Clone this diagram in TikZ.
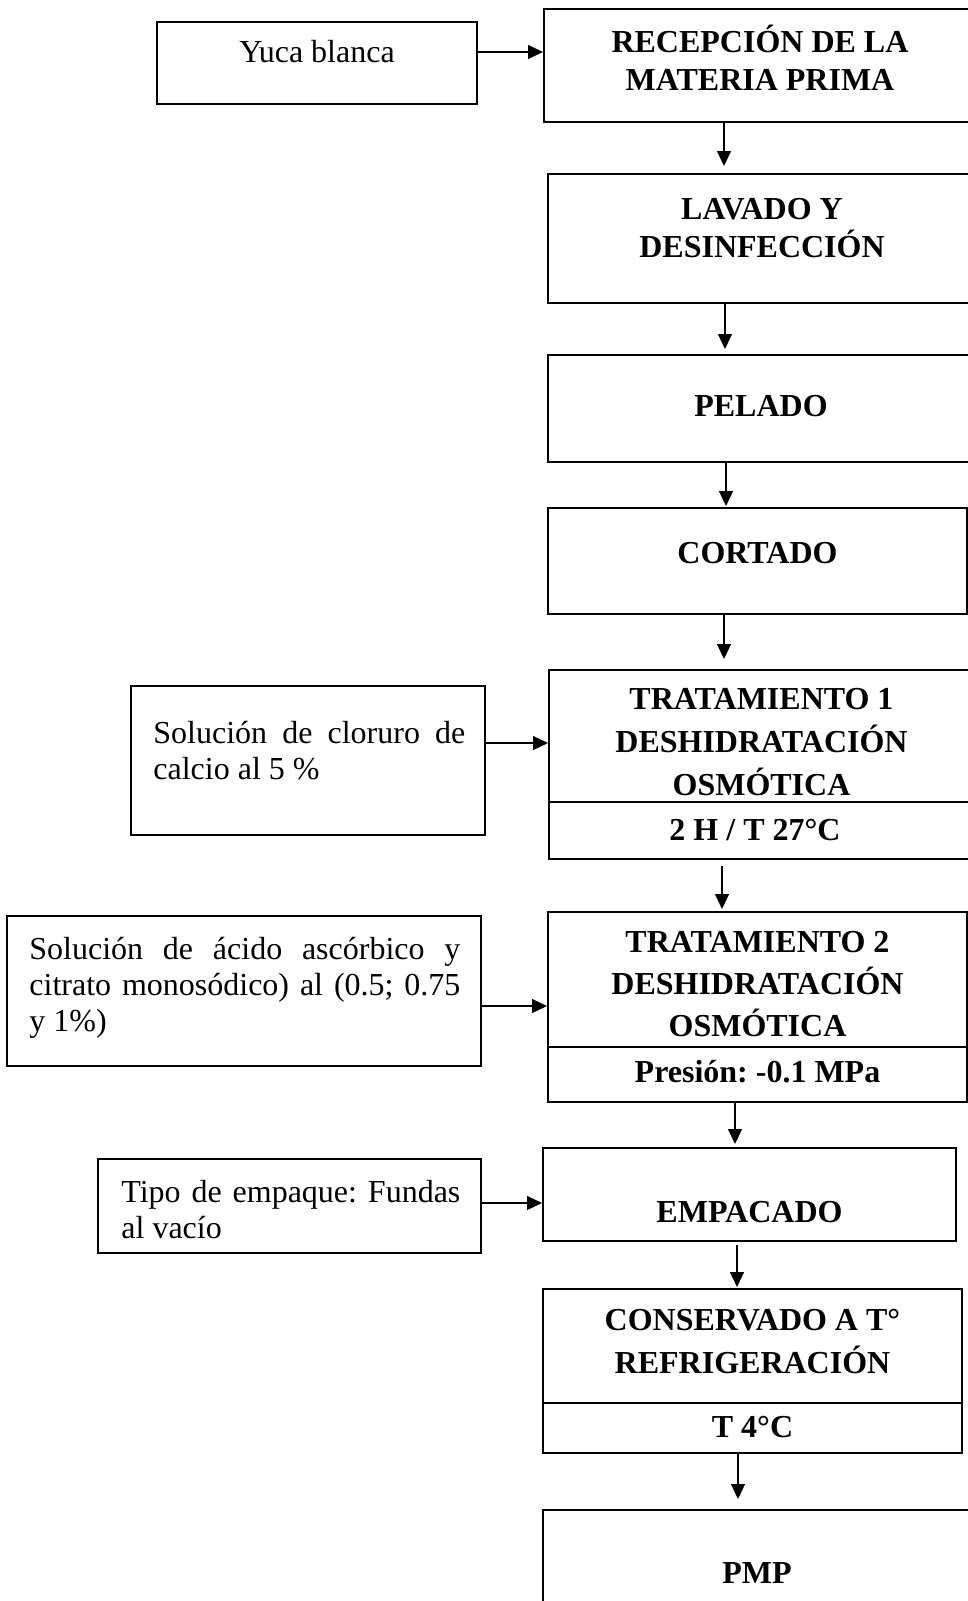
\documentclass[tikz,border=0pt]{standalone}
\usepackage{fontspec}
\setmainfont{Liberation Serif}
\usetikzlibrary{arrows.meta}
\hyphenpenalty=10000
\tolerance=10000
\frenchspacing

\tikzset{
  caja/.style={draw, line width=1pt, inner sep=0pt},
  titulo/.style={font=\bfseries\fontsize{16}{19}\selectfont, align=center, inner sep=0pt},
  nota/.style={font=\fontsize{16}{18}\selectfont, align=justify, inner sep=0pt, anchor=north west},
  flecha/.style={-{Triangle[length=7.5pt,width=7pt]}, line width=0.6pt},
  linea/.style={line width=0.6pt}
}

\begin{document}
\begin{tikzpicture}[x=0.5pt, y=-0.5pt]
\useasboundingbox (0,0) rectangle (968,1601);
\clip (0,0) rectangle (968,1601);
\fill[white] (0,0) rectangle (968,1601);

% etapas
\node[caja, minimum width=216pt, minimum height=56.5pt] (rec) at (760,65.5) {};
\node[caja, minimum width=214pt, minimum height=64.5pt] (lav) at (762,238.5) {};
\node[caja, minimum width=213pt, minimum height=53.5pt] (pel) at (761,408.5) {};
\node[caja, minimum width=209.5pt, minimum height=53pt] (cor) at (757.5,561) {};
\node[caja, minimum width=212.5pt, minimum height=94.5pt] (tr1) at (761.5,764.5) {};
\node[caja, minimum width=209.5pt, minimum height=95pt] (tr2) at (757.5,1007) {};
\node[caja, minimum width=206.5pt, minimum height=46.5pt] (emp) at (749.5,1194.5) {};
\node[caja, minimum width=209.5pt, minimum height=82pt] (con) at (752.5,1371) {};
\node[caja, minimum width=215.5pt, minimum height=65pt] (pmp) at (758.5,1575) {};

\draw[linea] ([yshift=-18.75pt]tr1.west) -- ([yshift=-18.75pt]tr1.east);
\draw[linea] ([yshift=-20pt]tr2.west) -- ([yshift=-20pt]tr2.east);
\draw[linea] ([yshift=-16pt]con.west) -- ([yshift=-16pt]con.east);

\node[titulo] (rec-t) at (760,58) {RECEPCIÓN DE LA\\MATERIA PRIMA};
\node[titulo] (lav-t) at (762,228) {LAVADO Y\\DESINFECCIÓN};
\node[titulo] (pel-t) at (761,406) {PELADO};
\node[titulo] (cor-t) at (757.5,553) {CORTADO};
\node[titulo, font=\bfseries\fontsize{16}{21.5}\selectfont] (tr1-t) at (761.5,742) {TRATAMIENTO 1\\DESHIDRATACIÓN\\OSMÓTICA};
\node[titulo] (tr1-c) at (755,830) {2 H / T 27°C};
\node[titulo, font=\bfseries\fontsize{16}{21}\selectfont] (tr2-t) at (757.5,984) {TRATAMIENTO 2\\DESHIDRATACIÓN\\OSMÓTICA};
\node[titulo] (tr2-c) at (757.5,1072) {Presión: -0.1 MPa};
\node[titulo] (emp-t) at (749.5,1212) {EMPACADO};
\node[titulo, font=\bfseries\fontsize{16}{21.5}\selectfont] (con-t) at (752.5,1341.5) {CONSERVADO A T°\\REFRIGERACIÓN};
\node[titulo] (con-c) at (752.5,1427) {T 4°C};
\node[titulo] (pmp-t) at (757,1573) {PMP};

% entradas
\node[caja, minimum width=160pt, minimum height=41pt] (yuca) at (317,63) {};
\node[caja, minimum width=177pt, minimum height=74.5pt] (clo) at (308,760.5) {};
\node[caja, minimum width=237pt, minimum height=75pt] (asc) at (244,991) {};
\node[caja, minimum width=191.5pt, minimum height=47pt] (tip) at (289.5,1206) {};

\node[font=\fontsize{16}{18}\selectfont, inner sep=0pt] (yuca-t) at (317,52) {Yuca blanca};
\node[nota, text width=156pt] (clo-t) at (153,721) {Solución de cloruro de calcio al 5 \%};
\node[nota, text width=215.5pt] (asc-t) at (29,937) {Solución de ácido ascórbico y\linebreak citrato monosódico) al (0.5; 0.75\linebreak y 1\%)};
\node[nota, text width=169.5pt] (tip-t) at (121,1180) {Tipo de empaque: Fundas\linebreak al vacío};

% flechas
\draw[flecha] ([yshift=5.5pt]yuca.east) -- ([yshift=6.75pt]rec.west);
\draw[flecha] ([yshift=8.75pt]clo.east) -- ([yshift=10.75pt]tr1.west);
\draw[flecha] ([yshift=-7.5pt]asc.east) -- ([yshift=0.5pt]tr2.west);
\draw[flecha] ([yshift=1.5pt]tip.east) -- ([yshift=-4.25pt]emp.west);

\draw[flecha, shorten >=3.5pt] ([xshift=-18pt]rec.south) -- ([xshift=-19pt]lav.north);
\draw[flecha, shorten >=2.5pt] ([xshift=-18.5pt]lav.south) -- ([xshift=-18pt]pel.north);
\draw[flecha, shorten >=0.5pt] ([xshift=-17.5pt]pel.south) -- ([xshift=-15.75pt]cor.north);
\draw[flecha, shorten >=5pt] ([xshift=-16.75pt]cor.south) -- ([xshift=-18.75pt]tr1.north);
\draw[flecha, shorten <=3pt, shorten >=1pt] ([xshift=-19.75pt]tr1.south) -- ([xshift=-17.75pt]tr2.north);
\draw[flecha, shorten >=1.5pt] ([xshift=-11.25pt]tr2.south) -- ([xshift=-7.25pt]emp.north);
\draw[flecha, shorten <=1.5pt, shorten >=0.5pt] ([xshift=-6.25pt]emp.south) -- ([xshift=-7.75pt]con.north);
\draw[flecha, shorten >=5pt] ([xshift=-7.25pt]con.south) -- ([xshift=-10.25pt]pmp.north);

\end{tikzpicture}
\end{document}
